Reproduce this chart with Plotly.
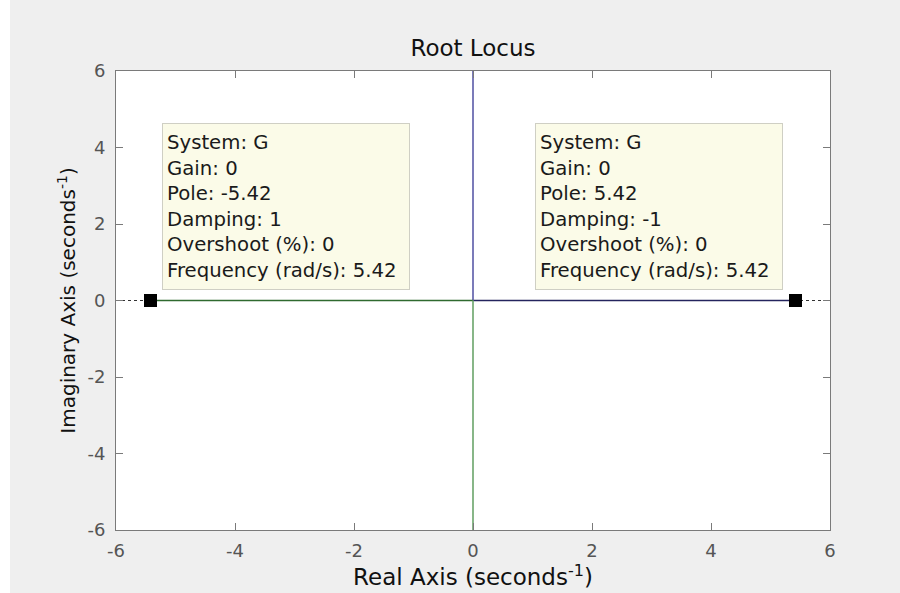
import plotly.graph_objects as go

# Open-loop poles of G (real axis, seconds^-1)
pole_re = [-5.42, 5.42]
pole_im = [0.0, 0.0]

# Root-locus branches: each starts at a pole, meets at the origin, then leaves vertically
branch_pos_re = [5.42, 0.0, 0.0]
branch_pos_im = [0.0, 0.0, 6.0]
branch_neg_re = [-5.42, 0.0, 0.0]
branch_neg_im = [0.0, 0.0, -6.0]

# Data-tip contents
tip_left = ["System: G", "Gain: 0", "Pole: -5.42", "Damping: 1",
            "Overshoot (%): 0", "Frequency (rad/s): 5.42"]
tip_right = ["System: G", "Gain: 0", "Pole: 5.42", "Damping: -1",
             "Overshoot (%): 0", "Frequency (rad/s): 5.42"]

ticks = [-6, -4, -2, 0, 2, 4, 6]

FONT = "DejaVu Sans, Verdana, sans-serif"

fig = go.Figure()

# dotted real-axis reference line
fig.add_trace(go.Scatter(x=[ticks[0], ticks[-1]], y=[0, 0], mode="lines",
                         line=dict(color="#333333", width=1, dash="dot"),
                         hoverinfo="skip", showlegend=False))

# branch through the right pole: horizontal part, then upward part
fig.add_trace(go.Scatter(x=branch_pos_re[:2], y=branch_pos_im[:2], mode="lines",
                         line=dict(color="#24245e", width=1.3), showlegend=False))
fig.add_trace(go.Scatter(x=branch_pos_re[1:], y=branch_pos_im[1:], mode="lines",
                         line=dict(color="#5a5aa8", width=1.6), showlegend=False))
# branch through the left pole: horizontal part, then downward part
fig.add_trace(go.Scatter(x=branch_neg_re[:2], y=branch_neg_im[:2], mode="lines",
                         line=dict(color="#2f6a2f", width=1.3), showlegend=False))
fig.add_trace(go.Scatter(x=branch_neg_re[1:], y=branch_neg_im[1:], mode="lines",
                         line=dict(color="#6aa46a", width=1.6), showlegend=False))

# data-tip markers on the poles
fig.add_trace(go.Scatter(x=pole_re, y=pole_im, mode="markers",
                         marker=dict(symbol="square", size=13, color="black"),
                         showlegend=False))

tip_style = dict(xref="x", yref="y", xanchor="left", yanchor="top",
                 showarrow=False, align="left", valign="middle",
                 bgcolor="#fbfbe8", bordercolor="#cfcfc4", borderwidth=1,
                 borderpad=4, width=238, height=157,
                 font=dict(family=FONT, size=19.7, color="#1a1a1a"))
fig.add_annotation(x=-5.23, y=4.64, text="<br>".join(tip_left), **tip_style)
fig.add_annotation(x=1.04, y=4.64, text="<br>".join(tip_right), **tip_style)

# light strip along the left edge of the window
fig.add_shape(type="rect", xref="paper", yref="paper",
              x0=-116 / 714, x1=(10 - 116) / 714, y0=-63 / 459, y1=1 + 71 / 459,
              fillcolor="white", line=dict(width=0), layer="below")

axis_common = dict(
    tickvals=ticks, ticktext=[str(t) for t in ticks],
    ticks="inside", ticklen=7, tickcolor="#7a7a7a", tickwidth=1,
    showline=True, linecolor="#7a7a7a", linewidth=1, mirror="ticks",
    showgrid=False, zeroline=False,
    tickfont=dict(family=FONT, size=18, color="#555555"),
)

fig.update_layout(
    width=900, height=593,
    margin=dict(l=116, r=70, t=71, b=63),
    paper_bgcolor="#efefef", plot_bgcolor="white",
    title=dict(text="Root Locus", xref="paper", x=0.5, xanchor="center",
               y=1 - 48 / 593, yanchor="middle",
               font=dict(family=FONT, size=23, color="#111111")),
    xaxis=dict(range=[-6, 6], ticklabelstandoff=4,
               title=dict(text="Real Axis (seconds<sup>-1</sup>)", standoff=3,
                          font=dict(family=FONT, size=23, color="#111111")),
               **axis_common),
    yaxis=dict(range=[-6, 6], ticklabelstandoff=6,
               title=dict(text="Imaginary Axis (seconds<sup>-1</sup>)", standoff=6,
                          font=dict(family=FONT, size=20, color="#111111")),
               **axis_common),
)

fig.write_html("out.html")
